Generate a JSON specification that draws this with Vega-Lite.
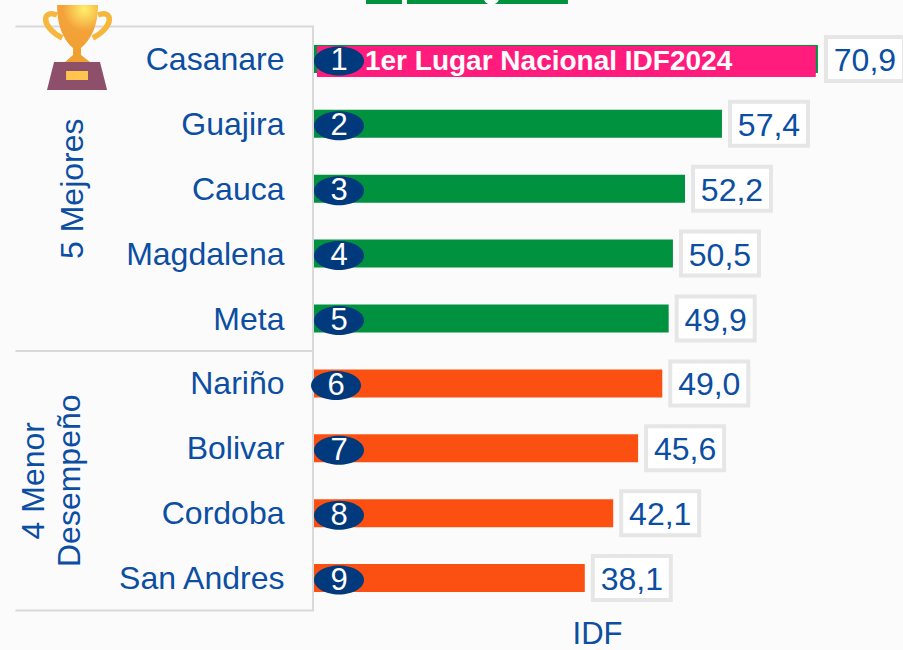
{
"$schema":"https://vega.github.io/schema/vega-lite/v6.json",
"width":589,"height":584,"autosize":"none",
"padding":{"left":314,"top":26.5,"right":0,"bottom":39.5},
"background":"#fbfbfb",
"config":{"view":{"stroke":null},"font":"Liberation Sans"},
"datasets":{"rows":[
{"dep":"Casanare","rank":1,"idf":70.9,"label":"70,9"},
{"dep":"Guajira","rank":2,"idf":57.4,"label":"57,4"},
{"dep":"Cauca","rank":3,"idf":52.2,"label":"52,2"},
{"dep":"Magdalena","rank":4,"idf":50.5,"label":"50,5"},
{"dep":"Meta","rank":5,"idf":49.9,"label":"49,9"},
{"dep":"Nariño","rank":6,"idf":49.0,"label":"49,0"},
{"dep":"Bolivar","rank":7,"idf":45.6,"label":"45,6"},
{"dep":"Cordoba","rank":8,"idf":42.1,"label":"42,1"},
{"dep":"San Andres","rank":9,"idf":38.1,"label":"38,1"}
]},
"data":{"name":"rows"},
"encoding":{
"y":{"field":"dep","type":"nominal","sort":null,
"scale":{"type":"band","domain":["Casanare","Guajira","Cauca","Magdalena","Meta","Nariño","Bolivar","Cordoba","San Andres"],"paddingInner":0,"paddingOuter":0},
"axis":{"title":null,"ticks":false,"domain":true,"domainColor":"#d9d9d9","domainWidth":2,"offset":1.5,"labelPadding":28.5,"labelFontSize":32,"labelOffset":1,"labelColor":"#0b4ea2","labelFont":"Liberation Sans","labelLimit":300}}
},
"layer":[
{"mark":{"type":"bar","height":28},
"encoding":{
"x":{"field":"idf","type":"quantitative","stack":null,
"scale":{"domain":[0,82.87],"nice":false,"zero":false,"clamp":false},
"axis":{"title":"IDF","titleFontSize":31,"titleFontWeight":"normal","titleColor":"#0b4ea2","titleFont":"Liberation Sans","titleX":283,"titleY":23.5,"titleBaseline":"middle","titleAlign":"center","labels":false,"ticks":false,"domain":false,"grid":false}},
"color":{"field":"dep","type":"nominal","legend":null,"scale":{"domain":["Casanare","Guajira","Cauca","Magdalena","Meta","Nariño","Bolivar","Cordoba","San Andres"],"range":["#00923f","#00923f","#00923f","#00923f","#00923f","#fb5012","#fb5012","#fb5012","#fb5012"]}}
}},
{"transform":[{"filter":"datum.rank==1"}],
"mark":{"type":"bar","height":31,"yOffset":2.5,"color":"#ff1c7c"},
"encoding":{"x":{"datum":0.42,"type":"quantitative"},"x2":{"datum":70.6}}},
{"transform":[{"filter":"datum.rank==1"}],
"mark":{"type":"text","text":"1er Lugar Nacional IDF2024","color":"white","fontWeight":"bold","fontSize":28,"align":"left","baseline":"middle","yOffset":3},
"encoding":{"x":{"datum":7.17,"type":"quantitative"}}},
{"transform":[{"filter":"datum.rank!=6"}],
"mark":{"type":"point","filled":true,"opacity":1,"color":"#003a7d","yOffset":2,"shape":"M-1,0 A1,0.58 0 1,1 1,0 A1,0.58 0 1,1 -1,0 Z","size":2500},
"encoding":{"x":{"datum":3.52,"type":"quantitative"}}},
{"transform":[{"filter":"datum.rank==6"}],
"mark":{"type":"point","filled":true,"opacity":1,"color":"#003a7d","yOffset":2,"shape":"M-1,0 A1,0.58 0 1,1 1,0 A1,0.58 0 1,1 -1,0 Z","size":2500},
"encoding":{"x":{"datum":3.1,"type":"quantitative"}}},
{"transform":[{"filter":"datum.rank!=6"}],
"mark":{"type":"text","color":"white","fontSize":31,"align":"center","baseline":"middle","yOffset":2.5},
"encoding":{"x":{"datum":3.52,"type":"quantitative"},"text":{"field":"rank","type":"nominal"}}},
{"transform":[{"filter":"datum.rank==6"}],
"mark":{"type":"text","color":"white","fontSize":31,"align":"center","baseline":"middle","yOffset":2.5},
"encoding":{"x":{"datum":3.1,"type":"quantitative"},"text":{"field":"rank","type":"nominal"}}},
{"mark":{"type":"point","filled":true,"opacity":1,"fill":"white","stroke":"#e6e6e6","strokeWidth":4,"strokeOpacity":1,"xOffset":47,"shape":"M-1,-0.564 H1 V0.564 H-1 Z","size":6084},
"encoding":{"x":{"field":"idf","type":"quantitative"}}},
{"mark":{"type":"text","color":"#0b4ea2","fontSize":32,"align":"center","baseline":"middle","xOffset":47,"yOffset":2},
"encoding":{"x":{"field":"idf","type":"quantitative"},"text":{"field":"label","type":"nominal"}}},
{"data":{"values":[{"dep":"Casanare"},{"dep":"Nariño"}]},
"mark":{"type":"rule","color":"#d9d9d9","strokeWidth":2},
"encoding":{"y":{"field":"dep","type":"nominal","bandPosition":0},"x":{"datum":-42,"type":"quantitative"},"x2":{"datum":0}}},
{"data":{"values":[{"dep":"San Andres"}]},
"mark":{"type":"rule","color":"#d9d9d9","strokeWidth":2},
"encoding":{"y":{"field":"dep","type":"nominal","bandPosition":1},"x":{"datum":-42,"type":"quantitative"},"x2":{"datum":0}}},
{"data":{"values":[{"dep":"Cauca","group":"5 Mejores"}]},
"mark":{"type":"text","angle":270,"color":"#0b4ea2","fontSize":32,"align":"center","baseline":"middle"},
"encoding":{"x":{"datum":-33.9,"type":"quantitative"},"text":{"field":"group","type":"nominal"}}},
{"data":{"values":[{"dep":"Bolivar","group":"4 Menor\nDesempeño"}]},
"mark":{"type":"text","angle":270,"color":"#0b4ea2","fontSize":32,"align":"center","baseline":"middle","lineBreak":"\n","lineHeight":36},
"encoding":{"y":{"field":"dep","type":"nominal","bandPosition":1},"x":{"datum":-39.4,"type":"quantitative"},"text":{"field":"group","type":"nominal"}}},
{"data":{"values":[{"dep":"Casanare","start":7.32,"end":12.38},{"dep":"Casanare","start":13.08,"end":35.73}]},
"mark":{"type":"rule","color":"#00923f","strokeWidth":4},
"encoding":{"y":{"field":"dep","type":"nominal","bandPosition":-0.3775},"x":{"field":"start","type":"quantitative"},"x2":{"field":"end"}}},
{"data":{"values":[{"dep":"Casanare"}]},
"mark":{"type":"point","filled":true,"opacity":1,"fill":"white","shape":"circle","size":250},
"encoding":{"y":{"field":"dep","type":"nominal","bandPosition":-0.4545},"x":{"datum":24.97,"type":"quantitative"}}},
{"data":{"values":[{"dep":"Casanare"}]},
"mark":{"type":"point","filled":false,"opacity":1,"stroke":"#f5b83d","strokeWidth":5.5,"shape":"M-0.444,-0.711 C-0.78,-0.85 -0.82,-0.45 -0.33,-0.2 M0.467,-0.711 C0.8,-0.85 0.84,-0.45 0.35,-0.2","size":8100,"strokeOpacity":1},
"encoding":{"y":{"field":"dep","type":"nominal","bandPosition":0.316},"x":{"datum":-33.34,"type":"quantitative"}}},
{"data":{"values":[{"dep":"Casanare"}]},
"mark":{"type":"point","filled":true,"opacity":1,"fill":{"gradient":"radial","x1":0.62,"y1":0.08,"x2":0.62,"y2":0.08,"r1":0,"r2":0.75,"stops":[{"offset":0,"color":"#fff06a"},{"offset":0.5,"color":"#f4a23a"},{"offset":1,"color":"#f0a030"}]},"shape":"M-0.444,-0.933 L0.467,-0.933 C0.467,-0.378 0.244,-0.111 0.089,0.022 L0.089,0.178 L0.289,0.333 L-0.267,0.333 L-0.089,0.178 L-0.089,0.022 C-0.244,-0.111 -0.444,-0.378 -0.444,-0.933 Z","size":8100},
"encoding":{"y":{"field":"dep","type":"nominal","bandPosition":0.316},"x":{"datum":-33.34,"type":"quantitative"}}},
{"data":{"values":[{"dep":"Casanare"}]},
"mark":{"type":"point","filled":true,"opacity":1,"fill":"#8e4f6a","shape":"M-0.511,0.333 L0.511,0.333 L0.667,0.956 L-0.667,0.956 Z","size":8100},
"encoding":{"y":{"field":"dep","type":"nominal","bandPosition":0.316},"x":{"datum":-33.34,"type":"quantitative"}}},
{"data":{"values":[{"dep":"Casanare"}]},
"mark":{"type":"point","filled":true,"opacity":1,"fill":"#ffc44d","shape":"M-0.244,0.533 L0.244,0.533 L0.244,0.733 L-0.244,0.733 Z","size":8100},
"encoding":{"y":{"field":"dep","type":"nominal","bandPosition":0.316},"x":{"datum":-33.34,"type":"quantitative"}}}
]
}
